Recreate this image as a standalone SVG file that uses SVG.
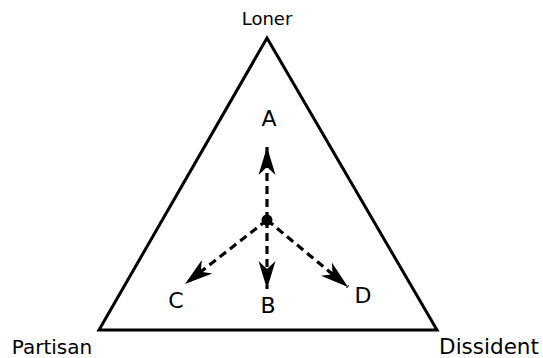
<svg xmlns="http://www.w3.org/2000/svg" width="543" height="358" viewBox="0 0 543 358">
<style>
text{font-family:"DejaVu Sans",sans-serif;fill:#000}
.lbl{font-size:22px;text-anchor:middle}
.conn line{stroke:#000;stroke-width:3.2;stroke-dasharray:8 5;fill:none}
</style>
<defs>
<marker id="ah" markerUnits="userSpaceOnUse" markerWidth="34" markerHeight="24" viewBox="-30 -12 34 24" refX="0" refY="0" orient="auto">
<path d="M0,0 L-28,-8.5 L-20,0 L-28,8.5 Z" fill="#000"/>
</marker>
</defs>
<g id="triangle">
<polygon points="267,38 99,330 437,330" fill="none" stroke="#000" stroke-width="3" stroke-linejoin="miter"/>
</g>
<g id="loner"><text x="267" y="25" style="font-size:18px" text-anchor="middle">Loner</text></g>
<g id="partisan"><text x="52" y="354" style="font-size:20px" text-anchor="middle">Partisan</text></g>
<g id="dissident"><text x="489" y="354" style="font-size:21.5px" text-anchor="middle">Dissident</text></g>
<g class="conn">
<line x1="267" y1="220" x2="267" y2="147" marker-end="url(#ah)"/>
<line x1="267" y1="220" x2="267" y2="289" marker-end="url(#ah)"/>
<line x1="267" y1="220" x2="185" y2="284" marker-end="url(#ah)"/>
<line x1="267" y1="220" x2="348" y2="287" marker-end="url(#ah)"/>
</g>
<g id="center"><circle cx="267" cy="220" r="5.5" fill="#000"/></g>
<g id="A"><text class="lbl" x="269" y="126">A</text></g>
<g id="B"><text class="lbl" x="268" y="313">B</text></g>
<g id="C"><text class="lbl" x="176" y="308">C</text></g>
<g id="D"><text class="lbl" x="363" y="303">D</text></g>
</svg>
